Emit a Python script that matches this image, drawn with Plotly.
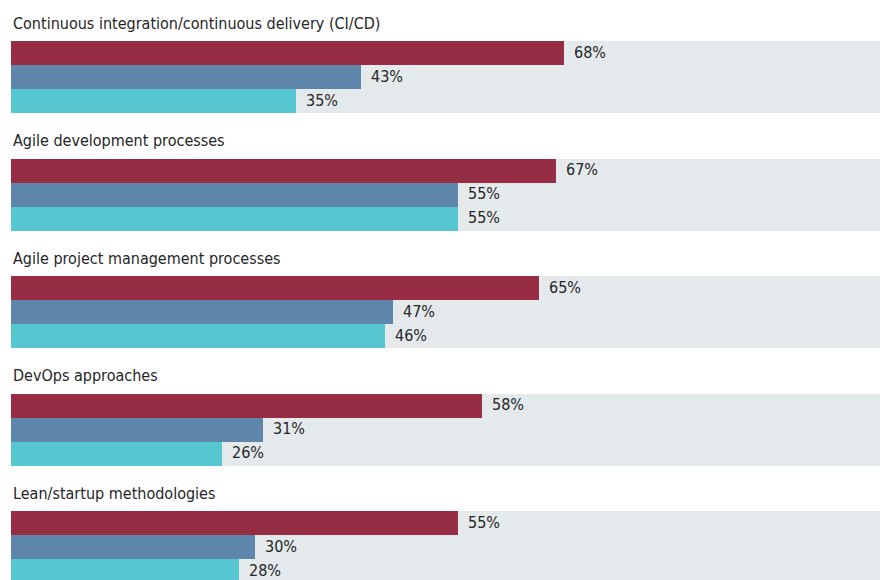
import plotly.graph_objects as go

# Survey results: share of respondents using each practice, three series per practice
categories = [
    "Continuous integration/continuous delivery (CI/CD)",
    "Agile development processes",
    "Agile project management processes",
    "DevOps approaches",
    "Lean/startup methodologies",
]
series_a = [68, 67, 65, 58, 55]
series_b = [43, 55, 47, 31, 30]
series_c = [35, 55, 46, 26, 28]

colors = ["#962d45", "#5e85aa", "#56c6d0"]
track_color = "#e4e9ec"
text_color = "#262626"
font_family = "DejaVu Sans Condensed, Liberation Sans Narrow, Arial Narrow, sans-serif"

W, H = 880, 580
left = 11
x_max = 106.9            # full track width in percent units
group_top0 = 41          # y (px) of first group's bars
group_step = 117.5       # vertical distance between groups
bar_h = 24

fig = go.Figure()

tops = [group_top0 + i * group_step for i in range(len(categories))]
block_centers = [t + 1.5 * bar_h for t in tops]

# grey background track behind each group
fig.add_trace(go.Bar(
    orientation="h", x=[x_max] * len(categories), y=block_centers,
    width=3 * bar_h, marker=dict(color=track_color, line=dict(width=0)),
    hoverinfo="skip", showlegend=False,
))

annotations = []
for k, vals in enumerate([series_a, series_b, series_c]):
    ys = [t + (k + 0.5) * bar_h for t in tops]
    fig.add_trace(go.Bar(
        orientation="h", x=vals, y=ys, width=bar_h,
        marker=dict(color=colors[k], line=dict(width=0)),
        showlegend=False, hoverinfo="skip",
    ))
    for v, y in zip(vals, ys):
        annotations.append(dict(
            x=v, y=y, xref="x", yref="y", text=f"{v}%", showarrow=False,
            xanchor="left", yanchor="middle", xshift=8, yshift=1,
            font=dict(family=font_family, size=16, color=text_color),
        ))

for name, t in zip(categories, tops):
    annotations.append(dict(
        x=0, y=t - 18, xref="x", yref="y", text=name, showarrow=False,
        xanchor="left", yanchor="middle", xshift=0,
        font=dict(family=font_family, size=16, color=text_color),
    ))

fig.update_layout(
    width=W, height=H,
    margin=dict(l=left, r=0, t=0, b=0),
    paper_bgcolor="white", plot_bgcolor="white",
    barmode="overlay", bargap=0,
    xaxis=dict(range=[0, x_max], visible=False, fixedrange=True),
    yaxis=dict(range=[H, 0], visible=False, fixedrange=True),
    annotations=annotations,
)

fig.write_html("out.html")
